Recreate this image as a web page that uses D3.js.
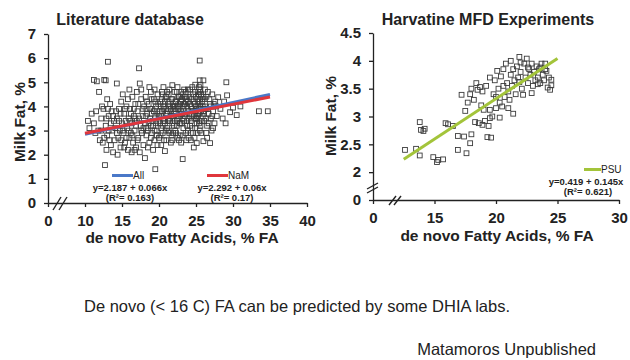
<!DOCTYPE html>
<html>
<head>
<meta charset="utf-8">
<script src="https://cdn.jsdelivr.net/npm/d3@7"></script>
<style>
  body { margin: 0; background: #fff; }
  svg { display: block; }
  text { font-family: "Liberation Sans", Arial, sans-serif; fill: #222; }
</style>
</head>
<body>
<div id="chart"></div>
<script>
(function(d3) {
  'use strict';

  // literature database: [de novo FA %, milk fat %]
  var litPoints = [
    [10.4,3.4],[10.6,3.1],[10.9,3.7],[11.2,3.3],[11.5,3.8],[11.8,3.0],[11.9,4.6],[11.6,5.04],[11.2,5.1],[12.2,3.5],[12.0,2.6],[12.4,2.5],[11.4,2.9],
    [12.6,5.1],[12.8,5.08],[13.1,5.85],[12.7,1.57],[12.5,3.9],[12.8,3.2],[13.0,2.8],[13.2,3.6],[13.4,4.1],[13.5,2.4],[13.7,3.0],[13.9,3.4],[12.9,2.2],[13.3,2.6],[13.6,3.8],[13.8,2.1],[12.3,4.0],[13.0,4.3],
    [14.3,4.95],[14.1,3.1],[14.3,3.5],[14.5,2.7],[14.6,3.9],[14.8,2.3],[14.9,4.2],[15.0,3.3],[15.2,2.9],[15.3,3.7],[15.4,2.5],[15.6,4.0],[15.7,3.1],[15.8,2.2],[15.9,3.5],[14.4,2.0],[15.1,4.5],[14.7,3.0],[15.5,3.4],[16.0,2.7],[14.2,3.8],[15.8,4.3],
    [16.1,3.9],[16.2,2.9],[16.3,3.3],[16.4,4.4],[16.5,2.5],[16.6,3.6],[16.7,3.0],[16.8,4.1],[16.9,2.3],[17.0,3.4],[17.1,3.8],[17.2,2.7],[17.3,5.58],[17.4,4.95],[17.5,3.2],[17.6,4.3],[17.7,2.9],[17.8,3.6],[17.9,2.4],[18.0,4.0],[16.3,2.1],[17.0,4.6],[17.4,2.1],[16.8,3.5],[17.9,3.1],[16.0,4.7],[17.6,4.7],
    [18.1,1.86],[18.1,3.3],[18.2,4.4],[18.3,2.8],[18.4,3.7],[18.5,3.0],[18.6,4.1],[18.7,2.5],[18.8,3.5],[18.9,4.6],[19.0,2.9],[19.1,3.9],[19.2,3.2],[19.3,4.3],[19.4,2.6],[19.5,1.4],[19.5,3.6],[19.6,4.0],[19.7,3.0],[19.8,4.5],[19.9,3.4],[20.0,2.7],[18.3,3.9],[18.7,4.8],[19.0,3.7],[19.4,4.7],[18.5,2.3],[19.8,2.4],[18.9,3.2],[19.2,2.2],
    [20.1,3.8],[20.2,4.2],[20.3,3.1],[20.4,4.6],[20.5,2.9],[20.6,3.5],[20.7,4.0],[20.8,2.15],[20.8,3.3],[20.9,4.4],[21.0,2.6],[21.1,3.7],[21.2,4.1],[21.3,3.0],[21.4,4.7],[21.5,3.4],[21.6,3.9],[21.7,2.8],[21.8,4.88],[21.8,4.3],[21.9,3.6],[22.0,3.2],[20.3,2.4],[20.6,4.8],[21.0,3.9],[21.3,4.5],[21.6,2.5],[22.0,4.0],[20.0,3.6],[21.9,2.9],[20.9,3.0],[21.2,3.4],[20.4,3.8],
    [22.1,4.6],[22.2,3.0],[22.3,4.2],[22.4,3.5],[22.5,2.7],[22.6,3.9],[22.7,4.4],[22.8,3.3],[22.9,4.0],[23.0,2.5],[23.1,3.7],[23.2,1.82],[23.2,4.5],[23.3,3.1],[23.4,4.1],[23.5,3.6],[23.6,2.9],[23.7,4.3],[23.8,3.4],[23.9,4.7],[24.0,3.8],[22.2,3.8],[22.5,4.8],[22.8,2.8],[23.0,4.2],[23.3,3.9],[23.6,4.6],[23.9,3.0],[22.4,3.2],[22.9,3.6],[23.5,4.4],[24.0,2.7],[23.1,3.3],[22.6,4.1],[23.8,4.0],
    [24.1,4.4],[24.2,3.2],[24.3,4.0],[24.4,3.6],[24.5,4.8],[24.6,2.9],[24.7,2.3],[24.7,4.2],[24.8,3.5],[24.9,4.6],[25.0,3.9],[25.1,2.48],[25.1,3.3],[25.2,4.3],[25.3,3.7],[25.4,4.5],[25.5,5.9],[25.5,5.08],[25.5,4.1],[25.5,3.4],[25.5,3.0],[25.6,4.7],[25.7,3.8],[25.8,4.2],[25.9,3.6],[26.0,2.56],[26.0,4.4],[24.3,2.6],[24.6,3.8],[24.9,3.1],[25.2,3.5],[25.6,3.2],[25.9,4.0],[26.0,5.08],[24.2,4.7],[25.0,4.0],[25.4,3.9],
    [26.1,3.4],[26.2,4.3],[26.3,3.9],[26.5,3.2],[26.6,4.6],[26.7,3.7],[26.9,2.48],[26.9,4.1],[27.0,3.5],[27.2,4.5],[27.3,3.8],[27.5,3.3],[27.6,4.2],[27.8,3.6],[28.0,4.38],[26.4,2.9],[27.1,3.0],[27.7,4.0],
    [28.3,3.9],[28.6,3.5],[29.2,4.46],[29.1,5.0],[29.6,3.76],[30.5,3.64],[30.0,3.95],[29.0,3.3],[28.8,4.2],[33.5,3.8],[34.7,3.8],[31.0,4.0],
    // denser core of the cloud
    [18.2,3.6],[18.4,4.2],[18.6,3.3],[18.8,3.9],[19.0,4.3],[19.1,3.4],[19.3,3.8],[19.5,4.2],[19.6,3.3],[19.8,3.7],[19.9,4.1],[18.3,3.1],[18.9,2.7],[19.4,3.0],[19.7,2.8],
    [20.1,3.3],[20.2,4.0],[20.3,3.6],[20.4,4.3],[20.5,3.2],[20.6,3.9],[20.7,3.4],[20.8,4.2],[20.9,3.7],[21.0,4.4],[21.1,3.1],[21.2,3.8],[21.3,4.2],[21.4,3.5],[21.5,4.0],[21.6,3.6],[21.7,4.3],[21.8,3.3],[21.9,4.0],[22.0,3.7],[20.2,2.8],[20.7,2.6],[21.4,2.9],[21.8,2.6],[20.5,4.5],[21.1,4.6],
    [22.1,3.4],[22.2,4.2],[22.3,3.7],[22.4,4.0],[22.5,3.4],[22.6,4.4],[22.7,3.6],[22.8,4.1],[22.9,3.3],[23.0,3.8],[23.1,4.3],[23.2,3.5],[23.3,4.0],[23.4,3.4],[23.5,4.1],[23.6,3.7],[23.7,4.4],[23.8,3.2],[23.9,4.2],[24.0,3.5],[22.3,2.9],[22.7,2.6],[23.2,2.8],[23.7,2.6],[22.4,4.6],[23.0,4.6],[23.4,4.7],[22.1,3.9],[22.9,4.4],[23.6,4.2],
    [24.1,3.7],[24.2,4.1],[24.3,3.4],[24.4,4.3],[24.5,3.9],[24.6,4.5],[24.7,3.6],[24.8,4.1],[24.9,3.8],[25.0,4.4],[25.1,3.6],[25.2,4.0],[25.3,4.6],[25.4,3.3],[25.5,4.3],[25.5,3.7],[25.5,4.6],[25.5,3.9],[25.6,4.0],[25.7,4.5],[25.8,3.4],[25.9,4.3],[26.0,3.8],[24.3,2.9],[24.8,2.7],[25.2,2.9],[25.7,2.9],[24.5,3.1],[25.0,3.5],[25.3,4.2],[25.6,4.9],[25.4,4.8],[24.9,4.9],
    [26.1,3.7],[26.2,4.0],[26.3,3.5],[26.4,4.4],[26.6,3.9],[26.7,3.3],[26.8,4.3],[27.0,4.0],[27.2,3.6],[27.4,4.1],[26.5,2.7],[27.3,3.1],[26.2,4.7],
    [12.2,3.0],[12.6,2.7],[12.9,3.5],[13.2,3.0],[13.5,3.3],[13.8,3.6],[14.0,2.6],[14.3,2.9],[14.6,3.4],[14.9,2.6],[15.1,3.0],[15.4,3.9],[15.6,2.7],[15.9,3.0],[16.1,3.4],[16.4,2.8],[16.6,3.9],[16.9,3.2],[17.1,2.6],[17.3,3.5],[17.6,3.0],[17.8,3.9],[16.2,3.7],[17.2,4.1],[14.8,3.7],[15.3,2.3],[16.7,2.2],[13.1,3.9]
  ];

  // Harvatine MFD experiments
  var psuPoints = [
    [12.6,2.4],[13.5,2.42],[13.8,2.3],[13.8,2.9],[13.9,2.76],[14.1,2.74],[14.2,2.78],[14.9,2.27],[15.2,2.18],[15.3,2.22],[15.7,2.23],[15.9,2.88],[16.1,2.86],[16.5,2.83],[16.9,2.65],[16.9,2.4],[17.4,2.64],[17.6,2.34],[17.9,2.52],[18.0,2.68],
    [17.2,3.39],[17.5,3.1],[17.7,3.25],[18.0,3.5],[18.2,3.3],[18.3,2.9],[18.5,3.48],[18.6,2.88],[18.7,3.53],[18.8,3.2],[18.9,2.85],[19.1,2.92],[19.3,2.63],[19.4,2.83],[19.5,3.12],[19.5,2.97],[19.5,3.7],[19.6,2.62],[19.7,3.0],[19.8,3.4],
    [19.9,3.65],[20.0,3.15],[20.1,3.82],[20.2,3.5],[20.3,3.25],[20.4,3.72],[20.5,3.18],[20.6,3.55],[20.7,3.35],[20.8,3.95],[20.9,3.6],[21.0,3.45],[21.1,3.3],[21.2,4.0],[21.2,3.75],[21.3,3.55],[21.4,3.85],[21.5,3.65],[21.6,3.4],[21.7,3.9],
    [21.8,3.7],[21.9,4.07],[22.0,3.8],[22.1,3.5],[22.2,3.39],[22.3,3.95],[22.4,3.7],[22.5,4.04],[22.6,3.6],[22.7,3.85],[22.8,3.75],[22.9,3.95],[23.0,3.55],[23.1,3.8],[23.2,3.65],[23.3,3.9],[23.4,3.7],[23.5,3.85],[23.6,3.6],[23.7,3.95],
    [23.8,3.75],[23.9,3.65],[24.0,3.85],[24.1,3.82],[24.2,3.52],[24.3,3.7],[24.5,3.66],[24.5,3.56],[24.4,3.48],[22.9,3.42],[23.4,3.58],[21.9,3.62],[20.6,3.85],[19.2,3.55],[18.4,3.6],[17.9,3.4],[18.9,3.45],[20.0,3.35],[21.0,3.15],[21.4,3.05],
    [20.3,2.98],[22.6,3.88],[23.6,3.88],[24.0,3.95],[22.0,3.97],[19.0,3.12]
  ];

  // regression fits: [intercept, slope], and x span of the drawn line
  var allFit = [2.187, 0.066], allSpan = [10, 35];
  var namFit = [2.292, 0.06], namSpan = [10, 35];
  var psuFit = [0.419, 0.145], psuSpan = [12.5, 25];

  // ticks (values) and the labels printed at them (axis breaks show "0")
  var litXTicks = [5, 10, 15, 20, 25, 30, 35, 40];
  var litXLabels = ['0', '10', '15', '20', '25', '30', '35', '40'];
  var litYTicks = [0, 1, 2, 3, 4, 5, 6, 7];
  var psuXTicks = [10, 15, 20, 25, 30];
  var psuXLabels = ['0', '15', '20', '25', '30'];
  var psuYTicks = [1.5, 2, 2.5, 3, 3.5, 4, 4.5];
  var psuYLabels = ['0', '2', '2.5', '3', '3.5', '4', '4.5'];

  var width = 630, height = 360;
  var font = '"Liberation Sans", Arial, sans-serif';

  var svg = d3.select('#chart').append('svg')
    .attr('width', width)
    .attr('height', height);

  var fitLine = function(fit, span, x, y) {
    return d3.line()
      .x(function(d) { return x(d); })
      .y(function(d) { return y(fit[0] + fit[1] * d); })(span);
  };

  function styleAxis(g) {
    g.attr('font-family', font).attr('font-size', 15).attr('font-weight', 'bold');
    g.selectAll('path, line').attr('stroke', '#222').attr('stroke-width', 1.3);
    g.selectAll('text').style('fill', '#222');
  }

  function breakMark(x1, y1, x2, y2, dx, dy) {
    [0, 1].forEach(function(i) {
      svg.append('line')
        .attr('x1', x1 + i * dx).attr('y1', y1 + i * dy)
        .attr('x2', x2 + i * dx).attr('y2', y2 + i * dy)
        .attr('stroke', '#222').attr('stroke-width', 1.4);
    });
  }

  function squares(data, x, y) {
    svg.append('g').selectAll('rect')
      .data(data)
      .enter()
      .append('rect')
      .attr('x', function(d) { return x(d[0]) - 2.4; })
      .attr('y', function(d) { return y(d[1]) - 2.4; })
      .attr('width', 4.8)
      .attr('height', 4.8)
      .attr('fill', 'none')
      .attr('stroke', '#3c3c3c')
      .attr('stroke-width', 0.9);
  }

  // ---------- left: literature database ----------
  var lx = d3.scaleLinear().domain([5, 40]).range([48, 307]);
  var ly = d3.scaleLinear().domain([0, 7]).range([203, 34]);

  svg.append('g')
    .attr('transform', 'translate(' + lx(5) + ',0)')
    .call(d3.axisLeft(ly).tickValues(litYTicks).tickSize(4).tickSizeOuter(0).tickPadding(8)
      .tickFormat(d3.format('d')))
    .call(styleAxis);

  svg.append('g')
    .attr('transform', 'translate(0,' + ly(0) + ')')
    .call(d3.axisBottom(lx).tickValues(litXTicks).tickSize(4).tickSizeOuter(0).tickPadding(8)
      .tickFormat(function(d, i) { return litXLabels[i]; }))
    .call(styleAxis);

  breakMark(53, 210, 61, 197, 6, 0);

  squares(litPoints, lx, ly);

  svg.append('path').attr('d', fitLine(allFit, allSpan, lx, ly))
    .attr('stroke', '#4a78c8').attr('stroke-width', 3).attr('fill', 'none');
  svg.append('path').attr('d', fitLine(namFit, namSpan, lx, ly))
    .attr('stroke', '#e0363c').attr('stroke-width', 3).attr('fill', 'none');

  svg.append('text').attr('x', 130).attr('y', 25).attr('text-anchor', 'middle')
    .attr('font-size', 16).attr('font-weight', 'bold').text('Literature database');
  svg.append('text').attr('transform', 'translate(25,122) rotate(-90)').attr('text-anchor', 'middle')
    .attr('font-size', 15.5).attr('font-weight', 'bold').text('Milk Fat, %');
  svg.append('text').attr('x', 182).attr('y', 243).attr('text-anchor', 'middle')
    .attr('font-size', 15.5).attr('font-weight', 'bold').text('de novo Fatty Acids, % FA');

  // legend
  var legend = [
    { name: 'All', color: '#4a78c8', x: 112, eq: 'y=2.187 + 0.066x', r2: '(R\u00b2= 0.163)', cx: 130 },
    { name: 'NaM', color: '#e0363c', x: 207, eq: 'y=2.292 + 0.06x', r2: '(R\u00b2= 0.17)', cx: 232 }
  ];
  legend.forEach(function(l) {
    svg.append('line').attr('x1', l.x).attr('x2', l.x + 21).attr('y1', 175.5).attr('y2', 175.5)
      .attr('stroke', l.color).attr('stroke-width', 3);
    svg.append('text').attr('x', l.x + 21).attr('y', 179).attr('font-size', 10).text(l.name);
    svg.append('text').attr('x', l.cx).attr('y', 191).attr('text-anchor', 'middle')
      .attr('font-size', 9.5).attr('font-weight', 'bold').text(l.eq);
    svg.append('text').attr('x', l.cx).attr('y', 201).attr('text-anchor', 'middle')
      .attr('font-size', 9.5).attr('font-weight', 'bold').text(l.r2);
  });

  // ---------- right: Harvatine MFD experiments ----------
  var rx = d3.scaleLinear().domain([10, 30]).range([373, 619]);
  var ry = d3.scaleLinear().domain([1.5, 4.5]).range([200, 33]);

  svg.append('g')
    .attr('transform', 'translate(' + rx(10) + ',0)')
    .call(d3.axisLeft(ry).tickValues(psuYTicks).tickSize(4).tickSizeOuter(0).tickPadding(8)
      .tickFormat(function(d, i) { return psuYLabels[i]; }))
    .call(styleAxis);

  svg.append('g')
    .attr('transform', 'translate(0,' + ry(1.5) + ')')
    .call(d3.axisBottom(rx).tickValues(psuXTicks).tickSize(4).tickSizeOuter(0).tickPadding(8)
      .tickFormat(function(d, i) { return psuXLabels[i]; }))
    .call(styleAxis);

  breakMark(367, 189, 378, 183, 0, 4);
  breakMark(389, 205, 396, 196, 5, 0);

  squares(psuPoints, rx, ry);

  svg.append('path').attr('d', fitLine(psuFit, psuSpan, rx, ry))
    .attr('stroke', '#a3c43a').attr('stroke-width', 3).attr('fill', 'none');

  svg.append('text').attr('x', 488).attr('y', 25).attr('text-anchor', 'middle')
    .attr('font-size', 16).attr('font-weight', 'bold').text('Harvatine MFD Experiments');
  svg.append('text').attr('transform', 'translate(336,116) rotate(-90)').attr('text-anchor', 'middle')
    .attr('font-size', 15.5).attr('font-weight', 'bold').text('Milk Fat, %');
  svg.append('text').attr('x', 497).attr('y', 241).attr('text-anchor', 'middle')
    .attr('font-size', 15.5).attr('font-weight', 'bold').text('de novo Fatty Acids, % FA');

  svg.append('line').attr('x1', 584).attr('x2', 601).attr('y1', 169.5).attr('y2', 169.5)
    .attr('stroke', '#a3c43a').attr('stroke-width', 3);
  svg.append('text').attr('x', 601).attr('y', 173).attr('font-size', 10).text('PSU');
  svg.append('text').attr('x', 586).attr('y', 185).attr('text-anchor', 'middle')
    .attr('font-size', 9.5).attr('font-weight', 'bold').text('y=0.419 + 0.145x');
  svg.append('text').attr('x', 588).attr('y', 195).attr('text-anchor', 'middle')
    .attr('font-size', 9.5).attr('font-weight', 'bold').text('(R\u00b2= 0.621)');

  // ---------- notes ----------
  svg.append('text').attr('x', 84).attr('y', 312).attr('font-size', 16.5)
    .text('De novo (< 16 C) FA can be predicted by some DHIA labs.');
  svg.append('text').attr('x', 596).attr('y', 355).attr('text-anchor', 'end').attr('font-size', 16.5)
    .text('Matamoros Unpublished');

})(window.d3);
</script>
</body>
</html>
